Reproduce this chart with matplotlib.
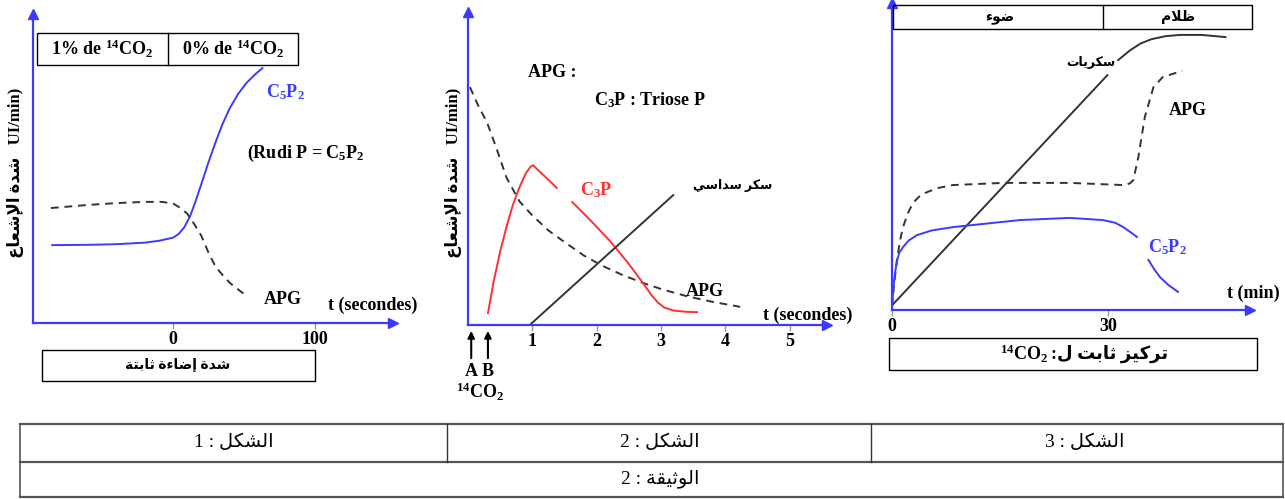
import matplotlib
matplotlib.use("Agg")
import matplotlib.pyplot as plt
from matplotlib.patches import Rectangle

W, H = 1285, 499

# figure 1 : C5P2 and APG around the switch to 0% 14CO2 (t in s)
f1_c5p2_t = [-85, -60, -40, -20, -10, 0, 4, 8, 12, 16, 20, 25, 30, 35, 40, 46, 52, 58, 63]
f1_c5p2_v = [25.2, 25.3, 25.5, 26.0, 26.6, 27.6, 28.8, 31.0, 34.5, 39.5, 45.0, 52.0, 58.5,
             64.5, 69.5, 74.2, 77.8, 80.5, 82.5]
f1_apg_t = [-86, -60, -40, -20, -8, 0, 5, 10, 15, 20, 25, 30, 35, 40, 46, 53]
f1_apg_v = [37.2, 38.2, 38.8, 39.2, 39.2, 38.7, 37.3, 35.4, 32.0, 28.2, 22.8, 18.2, 15.5,
            13.0, 10.8, 8.4]
f1_ticks = [0, 100]

# figure 2 : first seconds after 14CO2 injection
f2_apg_t = [0.03, 0.15, 0.3, 0.45, 0.6, 0.8, 1.0, 1.25, 1.5, 1.8, 2.1, 2.4, 2.7, 3.0, 3.4, 3.8, 4.23]
f2_apg_v = [76, 70.5, 64.5, 56, 47, 39.5, 35, 30.2, 26.5, 22.2, 18.8, 16.0, 13.6, 11.5, 9.2, 7.4, 5.8]
f2_c3p_a_t = [0.31, 0.4, 0.5, 0.6, 0.7, 0.8, 0.9, 0.97, 1.01, 1.1, 1.25, 1.38]
f2_c3p_a_v = [3.8, 14, 23.5, 31.5, 38.5, 44, 48.5, 50.5, 51.1, 49.3, 46.4, 43.8]
f2_c3p_b_t = [1.62, 1.9, 2.2, 2.5, 2.72, 2.85, 2.95, 3.05, 3.2, 3.4, 3.56]
f2_c3p_b_v = [39.3, 33.5, 27, 19.5, 13.4, 9.6, 7.2, 5.6, 4.6, 4.2, 4.1]
f2_sugar_t = [0.96, 3.19]
f2_sugar_v = [0, 41.5]
f2_ticks = [1, 2, 3, 4, 5]
f2_marks_t = [0.05, 0.31]
f2_marks = ["A", "B"]

# figure 3 : light then dark, constant 14CO2 (t in min)
f3_sugar_t = [0, 29.9]
f3_sugar_v = [1.5, 76.5]
f3_sugar2_t = [31.4, 33, 34.5, 36, 38, 40, 43, 46.3]
f3_sugar2_v = [81.4, 84.5, 86.8, 88.2, 89.2, 89.6, 89.6, 88.9]
f3_apg_t = [0, 0.3, 0.69, 1.1, 1.53, 2.2, 2.92, 3.8, 4.86, 6.5, 8.47, 15.4, 24.7, 32.1, 33.0,
            33.5, 34.2, 35.1, 36.3, 37.6, 40.3]
f3_apg_v = [1, 8.5, 16.3, 22.5, 27.0, 31.5, 34.9, 37.0, 38.4, 39.8, 40.7, 41.4, 41.4, 40.7,
            41.2, 42.3, 49.8, 62.9, 72.6, 75.9, 77.9]
f3_c5p2_a_t = [0, 0.2, 0.45, 0.69, 1.0, 1.53, 2.3, 3.47, 5.5, 8.47, 17.8, 24.7, 29.3, 31.0,
               32.1, 33.2, 34.0]
f3_c5p2_a_v = [1, 7.5, 12.5, 16.0, 18.6, 20.5, 22.6, 24.4, 25.9, 27.0, 29.3, 30.0, 29.3,
               28.4, 27.0, 25.2, 23.8]
f3_c5p2_b_t = [35.6, 36.4, 37.2, 38.4, 39.7]
f3_c5p2_b_v = [16.3, 13.3, 10.7, 8.1, 5.9]
f3_ticks = [0, 30]

BLUE = "#3b3bff"
RED = "#ff3030"
DARK = "#333333"
LAT = ["Liberation Serif", "DejaVu Sans"]

# arabic letters -> (isolated, final, initial, medial)
FORMS = {
    "\u0621": ("\ufe80", None, None, None),
    "\u0625": ("\ufe87", "\ufe88", None, None),
    "\u0627": ("\ufe8d", "\ufe8e", None, None),
    "\u0628": ("\ufe8f", "\ufe90", "\ufe91", "\ufe92"),
    "\u0629": ("\ufe93", "\ufe94", None, None),
    "\u062a": ("\ufe95", "\ufe96", "\ufe97", "\ufe98"),
    "\u062b": ("\ufe99", "\ufe9a", "\ufe9b", "\ufe9c"),
    "\u062f": ("\ufea9", "\ufeaa", None, None),
    "\u0631": ("\ufead", "\ufeae", None, None),
    "\u0632": ("\ufeaf", "\ufeb0", None, None),
    "\u0633": ("\ufeb1", "\ufeb2", "\ufeb3", "\ufeb4"),
    "\u0634": ("\ufeb5", "\ufeb6", "\ufeb7", "\ufeb8"),
    "\u0636": ("\ufebd", "\ufebe", "\ufebf", "\ufec0"),
    "\u0638": ("\ufec5", "\ufec6", "\ufec7", "\ufec8"),
    "\u0639": ("\ufec9", "\ufeca", "\ufecb", "\ufecc"),
    "\u0642": ("\ufed5", "\ufed6", "\ufed7", "\ufed8"),
    "\u0643": ("\ufed9", "\ufeda", "\ufedb", "\ufedc"),
    "\u0644": ("\ufedd", "\ufede", "\ufedf", "\ufee0"),
    "\u0645": ("\ufee1", "\ufee2", "\ufee3", "\ufee4"),
    "\u0648": ("\ufeed", "\ufeee", None, None),
    "\u064a": ("\ufef1", "\ufef2", "\ufef3", "\ufef4"),
}
LAMALEF = {"\u0627": ("\ufefb", "\ufefc"), "\u0625": ("\ufef9", "\ufefa")}


def ar(s):
    # crude shaping + visual order, matplotlib has no bidi
    out = []
    i = 0
    while i < len(s):
        c = s[i]
        if c not in FORMS:
            out.append(c)
            i += 1
            continue
        prev = s[i - 1] if i > 0 else ""
        jp = prev in FORMS and FORMS[prev][2] is not None
        if c == "\u0644" and i + 1 < len(s) and s[i + 1] in LAMALEF:
            out.append(LAMALEF[s[i + 1]][1 if jp else 0])
            i += 2
            continue
        nxt = s[i + 1] if i + 1 < len(s) else ""
        jn = FORMS[c][2] is not None and nxt in FORMS
        iso, fin, ini, med = FORMS[c]
        out.append(med if jp and jn else fin if jp else ini if jn else iso)
        i += 1
    return "".join(reversed(out))


def sub(a):
    return r"$\mathregular{_{%s}}$" % a


def sup(a):
    return r"$\mathregular{^{%s}}$" % a


fig = plt.figure(figsize=(W / 100, H / 100), dpi=100)


def px_axes(x0, y0, x1, y1):
    return fig.add_axes([x0 / W, 1 - y1 / H, (x1 - x0) / W, (y1 - y0) / H])


def frame(ax, ticks, xlim):
    ax.set_xlim(*xlim)
    ax.set_ylim(0, 100)
    ax.set_facecolor("none")
    for s in ["top", "right"]:
        ax.spines[s].set_visible(False)
    for s in ["left", "bottom"]:
        ax.spines[s].set_color(BLUE)
        ax.spines[s].set_linewidth(1.6)
    ax.set_yticks([])
    ax.set_xticks(ticks)
    ax.set_xticklabels([str(t) for t in ticks], fontfamily=LAT, fontweight="bold", fontsize=13)
    ax.tick_params(axis="x", length=4, width=1, color="#999999", pad=2)
    ax.plot([0], [1], marker="^", color=BLUE, ms=7, transform=ax.transAxes, clip_on=False)
    ax.plot([1], [0], marker=">", color=BLUE, ms=7, transform=ax.transAxes, clip_on=False)


ax1 = px_axes(33, 14, 393, 323)
frame(ax1, f1_ticks, (-98.6, 155))
ax1.plot(f1_c5p2_t, f1_c5p2_v, color=BLUE, lw=1.4)
ax1.plot(f1_apg_t, f1_apg_v, color=DARK, lw=1.4, dashes=(4, 3))

ax2 = px_axes(468, 12, 827, 325)
frame(ax2, f2_ticks, (0, 5.58))
ax2.plot(f2_apg_t, f2_apg_v, color=DARK, lw=1.4, dashes=(4, 3))
ax2.plot(f2_c3p_a_t, f2_c3p_a_v, color=RED, lw=1.4)
ax2.plot(f2_c3p_b_t, f2_c3p_b_v, color=RED, lw=1.4)
ax2.plot(f2_sugar_t, f2_sugar_v, color=DARK, lw=1.4)
for t, m in zip(f2_marks_t, f2_marks):
    ax2.annotate("", xy=(t, -1), xytext=(t, -11.5), xycoords=("data", "data"),
                 arrowprops=dict(arrowstyle="-|>", color="black", lw=1.5, mutation_scale=10),
                 annotation_clip=False)
    ax2.text(t, -15, m, ha="center", va="center", fontfamily=LAT, fontweight="bold",
             fontsize=13, clip_on=False)

ax3 = px_axes(892, 3, 1250, 310)
frame(ax3, f3_ticks, (0, 49.7))
ax3.plot(f3_sugar_t, f3_sugar_v, color=DARK, lw=1.4)
ax3.plot(f3_sugar2_t, f3_sugar2_v, color=DARK, lw=1.4)
ax3.plot(f3_apg_t, f3_apg_v, color=DARK, lw=1.4, dashes=(4, 3))
ax3.plot(f3_c5p2_a_t, f3_c5p2_a_v, color=BLUE, lw=1.4)
ax3.plot(f3_c5p2_b_t, f3_c5p2_b_v, color=BLUE, lw=1.4)

# overlay in pixel coordinates for boxes, labels and the bottom table
cv = fig.add_axes([0, 0, 1, 1])
cv.set_xlim(0, W)
cv.set_ylim(H, 0)
cv.axis("off")


def box(x0, y0, x1, y1, lw=1.0):
    cv.add_patch(Rectangle((x0, y0), x1 - x0, y1 - y0, fill=False, ec="black", lw=lw))


def txt(x, y, s, size=13, color="black", weight="bold", **kw):
    cv.text(x, y, s, ha=kw.pop("ha", "center"), va=kw.pop("va", "center"), fontsize=size,
            color=color, fontweight=weight, fontfamily=LAT, **kw)


co2 = sup("14") + "CO" + sub("2")
c5p2 = "C" + sub("5") + "P" + sub("2")
c3p = "C" + sub("3") + "P"
ylab = ar("شدة الإشعاع") + "   UI/min)"

# figure 1
box(37, 33, 298, 65)
cv.plot([168, 168], [33, 65], color="black", lw=1.0)
txt(102, 49, "1% de " + co2)
txt(233, 49, "0% de " + co2)
box(42, 350, 315, 381)
txt(178, 365, ar("شدة إضاءة ثابتة"), size=10)
txt(16, 173, ylab, size=12, rotation=90)
txt(285, 92, c5p2, color=BLUE)
txt(306, 153, "(Rudi P = " + c5p2)
txt(283, 300, "APG")
txt(373, 305, "t (secondes)")

# figure 2
txt(453, 173, ylab, size=12, rotation=90)
txt(552, 72, "APG :")
txt(650, 100, c3p + " : Triose P")
txt(596, 190, c3p, color=RED)
txt(733, 185, ar("سكر سداسي"), size=9)
txt(705, 292, "APG")
txt(808, 315, "t (secondes)")
txt(480, 392, co2)

# figure 3
box(893, 5, 1252, 29)
cv.plot([1103, 1103], [5, 29], color="black", lw=1.0)
txt(1000, 17, ar("ضوء"), size=10)
txt(1178, 17, ar("ظلام"), size=10)
box(889, 338, 1257, 370)
txt(1048, 354, co2, ha="right")
txt(1051, 354, ar("تركيز ثابت ل:"), size=13, ha="left")
txt(1091, 62, ar("سكريات"), size=9)
txt(1188, 110, "APG")
txt(1167, 247, c5p2, color=BLUE)
txt(1253, 293, "t (min)")

# bottom table
for y in [424, 462, 497]:
    cv.plot([20, 1283], [y, y], color="#555555", lw=1.6)
cv.plot([20, 20], [424, 497], color="#555555", lw=1.2)
cv.plot([1283, 1283], [424, 497], color="#555555", lw=1.2)
for x in [447, 871]:
    cv.plot([x, x], [424, 462], color="#333333", lw=1.0)
txt(234, 442, ar("الشكل : 1"), size=14, weight="normal")
txt(660, 442, ar("الشكل : 2"), size=14, weight="normal")
txt(1085, 442, ar("الشكل : 3"), size=14, weight="normal")
txt(660, 479, ar("الوثيقة : 2"), size=14, weight="normal")

fig.savefig("out.png", dpi=100)
